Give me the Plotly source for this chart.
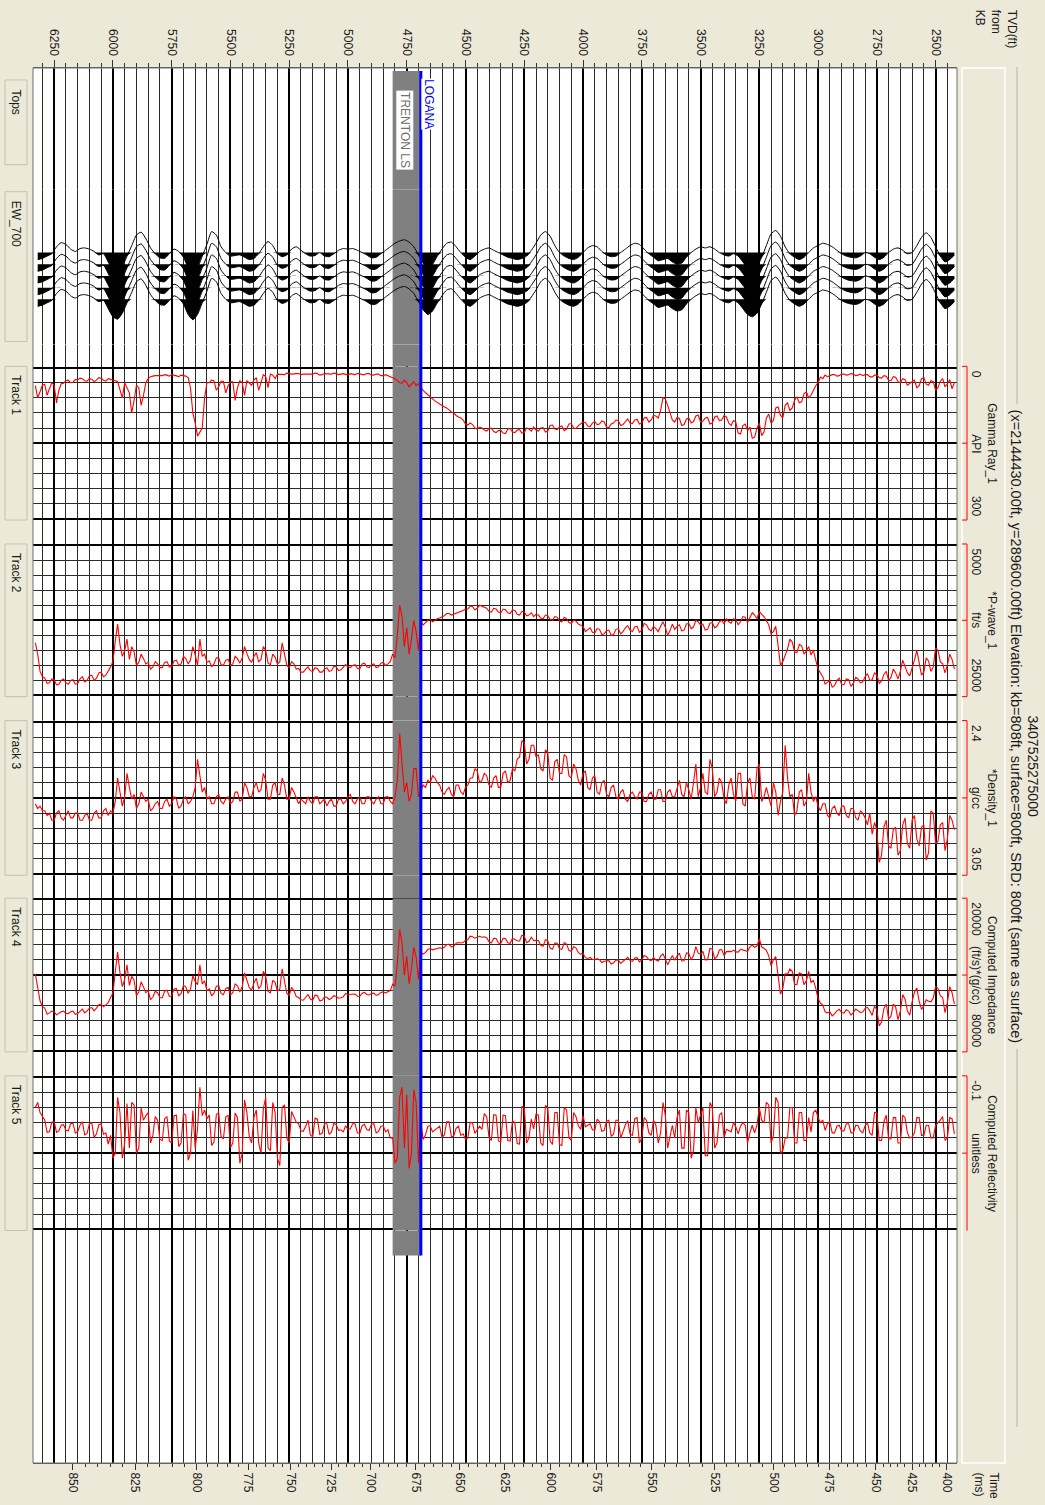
import numpy as np
import plotly.graph_objects as go

# ---------------- data ----------------
# log curves: one sample every 10 ft starting at 2420 ft
LOG_DEPTH_START_FT = 2420
LOG_DEPTH_STEP_FT = 10

GAMMA_RAY_API = [
    30, 42, 24, 33, 38, 22, 27, 40, 45, 28, 26, 35, 33, 20, 22, 36, 40, 25, 28, 32,
    35, 24, 22, 30, 28, 19, 18, 26, 25, 17, 16, 21, 20, 15, 15, 19, 18, 14, 14, 16,
    13, 15, 16, 13, 12, 14, 15, 13, 13, 16, 17, 14, 14, 16, 18, 15, 22, 19, 30, 36,
    45, 55, 60, 48, 52, 68, 70, 58, 65, 80, 85, 70, 75, 100, 95, 78, 80, 105, 110, 92,
    100, 128, 135, 110, 120, 138, 140, 118, 125, 112, 115, 132, 130, 108, 105, 115, 110, 98, 95, 104,
    105, 96, 98, 110, 112, 99, 100, 106, 108, 94, 96, 107, 110, 100, 102, 113, 115, 101, 99, 108,
    104, 88, 75, 62, 60, 85, 100, 96, 95, 104, 108, 99, 100, 110, 112, 103, 104, 111, 110, 102,
    108, 113, 115, 105, 104, 110, 112, 119, 118, 108, 106, 112, 113, 107, 110, 117, 116, 109, 108, 112,
    115, 121, 120, 111, 112, 122, 125, 116, 118, 123, 122, 114, 115, 126, 128, 119, 120, 126, 124, 118,
    126, 122, 120, 129, 130, 123, 124, 129, 128, 121, 122, 131, 130, 124, 125, 129, 127, 120, 121, 126,
    124, 120, 118, 122, 120, 113, 110, 114, 112, 104, 100, 98, 95, 90, 88, 84, 80, 78, 75, 72,
    70, 66, 62, 58, 55, 50, 45, 40, 32, 36, 28, 34, 38, 30, 25, 31, 30, 26, 22, 20,
    18, 15, 14, 16, 16, 13, 13, 15, 15, 12, 12, 14, 14, 12, 12, 14, 13, 12, 15, 13,
    12, 13, 14, 12, 11, 13, 13, 12, 12, 14, 15, 12, 11, 13, 13, 12, 12, 13, 14, 12,
    12, 13, 13, 12, 11, 14, 14, 13, 13, 22, 15, 13, 40, 18, 14, 30, 45, 20, 25, 35,
    30, 26, 55, 30, 26, 40, 65, 28, 28, 36, 50, 27, 27, 38, 45, 26, 25, 30, 30, 60,
    120, 128, 136, 110, 90, 40, 20, 17, 16, 15, 18, 16, 15, 14, 17, 15, 14, 16, 16, 15,
    16, 17, 18, 22, 30, 55, 75, 40, 35, 65, 90, 50, 40, 30, 60, 45, 28, 26, 25, 24,
    22, 27, 25, 21, 20, 25, 28, 23, 22, 27, 26, 22, 21, 24, 24, 29, 30, 25, 26, 31,
    32, 45, 70, 35, 30, 42, 55, 33, 35, 48, 60, 36,
]

P_WAVE_FTS = [
    21500, 20200, 19500, 21000, 22000, 20800, 20500, 19000, 18700, 21200,
    21800, 20400, 20000, 21900, 22300, 20600, 19000, 20300, 21500, 22400,
    22000, 21200, 20300, 21800, 22800, 22000, 21500, 22600, 23000, 21800,
    22200, 23100, 23400, 22300, 22000, 22900, 23000, 22100, 22500, 23200,
    23300, 22800, 22600, 23400, 23800, 22900, 22800, 23600, 23500, 22700,
    23000, 23700, 23900, 23000, 23200, 23500, 22500, 22000, 21500, 20300,
    19000, 19600, 18500, 19100, 19500, 18400, 18200, 19300, 19200, 17900,
    17500, 18800, 19800, 20500, 21000, 18000, 15800, 16500, 16800, 15600,
    15000, 14500, 14200, 13800, 14800, 14300, 14000, 14700, 15300, 14600,
    14500, 15200, 15600, 14900, 14800, 15400, 15200, 14800, 15500, 15000,
    15200, 15800, 16000, 15300, 15400, 16200, 16300, 15500, 15600, 15200,
    15000, 15900, 16100, 15400, 15500, 16300, 16400, 15600, 15800, 16200,
    15500, 16400, 17000, 15900, 15200, 15800, 16500, 16100, 15800, 16400,
    16200, 15600, 15400, 16300, 16600, 15800, 15900, 16500, 16300, 15700,
    16000, 16500, 16800, 16100, 16200, 16900, 17000, 16300, 16400, 16800,
    16900, 16200, 16100, 16700, 16600, 16000, 16200, 16500, 15800, 15600,
    15500, 15100, 15000, 15400, 15300, 14800, 14600, 15200, 15100, 14600,
    14500, 15000, 14900, 14400, 14300, 14800, 14700, 14300, 14200, 14500,
    14000, 14300, 14400, 13900, 13800, 14300, 14200, 13700, 13600, 14100,
    14000, 13600, 13500, 14000, 13900, 13500, 13400, 13900, 13800, 13400,
    13300, 13200, 13000, 13400, 13600, 13200, 13100, 13500, 13500, 13700,
    13800, 13900, 14000, 14200, 14300, 14100, 14100, 14400, 14600, 14700,
    14800, 15000, 15200, 14900, 15000, 15300, 15600, 15200, 19000, 16500,
    15000, 17500, 19500, 16000, 18500, 14500, 13000, 17000, 20000, 19500,
    20500, 20800, 21000, 20600, 20700, 21200, 21300, 20800, 20900, 21300,
    21200, 20700, 20800, 21500, 21400, 20900, 21000, 21300, 21200, 20900,
    21300, 21600, 21700, 21200, 21100, 21700, 21800, 21300, 21500, 21900,
    21900, 21400, 21300, 21800, 21700, 21200, 21500, 21900, 21900, 21400,
    21500, 20800, 20500, 21300, 21000, 19500, 18000, 20500, 20800, 19900,
    19500, 20900, 20700, 19000, 18500, 20200, 20500, 19300, 19800, 20600,
    20200, 19400, 18500, 20000, 20700, 20100, 19800, 20800, 21000, 20200,
    20300, 21000, 20900, 20000, 20000, 20800, 21200, 20400, 20600, 19500,
    19800, 17500, 21000, 19600, 18500, 20300, 20800, 20100, 19800, 20800,
    21000, 20300, 20400, 21200, 21200, 20500, 20600, 21300, 21300, 20800,
    20500, 21200, 21500, 20600, 20800, 20100, 19500, 20600, 21000, 19200,
    18500, 20200, 17500, 19000, 19800, 18200, 15500, 17800, 20500, 21200,
    21800, 22300, 22500, 21900, 22000, 22700, 23000, 22300, 22400, 23000,
    23200, 22500, 22800, 23400, 23500, 22900, 23000, 23500, 23300, 22800,
    23000, 23500, 23600, 22900, 22800, 23300, 23400, 22700, 22500, 21800,
    19500, 18000,
]

DENSITY_GCC = [
    2.86, 2.82, 2.80, 2.90, 2.95, 2.83, 2.84, 2.91, 2.92, 2.79, 2.78, 2.96, 2.99, 2.84, 2.85, 2.93, 2.90, 2.80, 2.82, 2.94,
    2.92, 2.81, 2.84, 2.95, 2.97, 2.85, 2.86, 2.94, 2.93, 2.82, 2.85, 2.97, 3.00, 2.86, 2.83, 2.88, 2.79, 2.84, 2.81, 2.79,
    2.78, 2.82, 2.81, 2.77, 2.77, 2.81, 2.80, 2.76, 2.76, 2.80, 2.79, 2.76, 2.77, 2.81, 2.80, 2.75, 2.75, 2.78, 2.76, 2.72,
    2.74, 2.70, 2.62, 2.74, 2.76, 2.69, 2.70, 2.78, 2.80, 2.71, 2.72, 2.64, 2.50, 2.70, 2.74, 2.80, 2.70, 2.66, 2.76, 2.72,
    2.68, 2.72, 2.74, 2.58, 2.60, 2.73, 2.72, 2.64, 2.66, 2.76, 2.75, 2.62, 2.62, 2.74, 2.71, 2.64, 2.67, 2.75, 2.73, 2.66,
    2.64, 2.70, 2.72, 2.60, 2.56, 2.71, 2.70, 2.62, 2.68, 2.72, 2.58, 2.66, 2.73, 2.69, 2.66, 2.72, 2.71, 2.65, 2.69, 2.72,
    2.72, 2.69, 2.70, 2.74, 2.74, 2.69, 2.69, 2.73, 2.73, 2.70, 2.71, 2.74, 2.74, 2.70, 2.70, 2.73, 2.72, 2.70, 2.71, 2.74,
    2.73, 2.69, 2.70, 2.73, 2.72, 2.67, 2.68, 2.72, 2.71, 2.65, 2.66, 2.71, 2.70, 2.63, 2.64, 2.69, 2.68, 2.61, 2.62, 2.67,
    2.65, 2.60, 2.58, 2.64, 2.63, 2.55, 2.54, 2.62, 2.62, 2.56, 2.57, 2.65, 2.64, 2.53, 2.52, 2.61, 2.60, 2.54, 2.55, 2.50,
    2.50, 2.56, 2.58, 2.49, 2.48, 2.55, 2.56, 2.61, 2.60, 2.65, 2.66, 2.61, 2.62, 2.68, 2.68, 2.63, 2.64, 2.68, 2.67, 2.63,
    2.62, 2.65, 2.66, 2.61, 2.60, 2.64, 2.64, 2.67, 2.68, 2.71, 2.70, 2.67, 2.67, 2.72, 2.71, 2.68, 2.69, 2.71, 2.70, 2.67,
    2.66, 2.64, 2.63, 2.66, 2.65, 2.68, 2.67, 2.70, 2.72, 2.60, 2.60, 2.71, 2.74, 2.66, 2.70, 2.58, 2.45, 2.65, 2.72, 2.75,
    2.74, 2.72, 2.72, 2.75, 2.75, 2.72, 2.73, 2.75, 2.74, 2.72, 2.72, 2.75, 2.75, 2.72, 2.73, 2.75, 2.74, 2.71, 2.72, 2.74,
    2.75, 2.73, 2.73, 2.76, 2.76, 2.73, 2.74, 2.76, 2.73, 2.74, 2.75, 2.72, 2.72, 2.75, 2.74, 2.72, 2.75, 2.74, 2.73, 2.75,
    2.72, 2.70, 2.68, 2.73, 2.73, 2.67, 2.64, 2.71, 2.71, 2.66, 2.67, 2.73, 2.73, 2.65, 2.62, 2.69, 2.70, 2.66, 2.68, 2.72,
    2.72, 2.68, 2.66, 2.73, 2.74, 2.70, 2.70, 2.74, 2.75, 2.72, 2.73, 2.75, 2.74, 2.71, 2.72, 2.75, 2.75, 2.72, 2.73, 2.68,
    2.70, 2.62, 2.56, 2.68, 2.72, 2.74, 2.75, 2.72, 2.73, 2.76, 2.77, 2.73, 2.72, 2.75, 2.76, 2.73, 2.74, 2.77, 2.77, 2.74,
    2.75, 2.77, 2.78, 2.73, 2.74, 2.72, 2.70, 2.75, 2.77, 2.71, 2.73, 2.68, 2.62, 2.72, 2.76, 2.70, 2.64, 2.74, 2.79, 2.78,
    2.80, 2.77, 2.78, 2.81, 2.81, 2.78, 2.79, 2.82, 2.82, 2.79, 2.80, 2.82, 2.82, 2.79, 2.79, 2.81, 2.81, 2.78, 2.80, 2.82,
    2.81, 2.78, 2.79, 2.82, 2.82, 2.79, 2.80, 2.78, 2.78, 2.76, 2.77, 2.75,
]

IMPEDANCE = [
    61500, 57000, 54600, 60900, 64900, 58900, 58200, 55300, 54600, 59100,
    60600, 60400, 59800, 62200, 63600, 60400, 55100, 56800, 60600, 65900,
    64200, 59600, 57700, 64300, 67700, 62700, 61500, 66400, 67400, 61500,
    63300, 68600, 70200, 63800, 62300, 66000, 64200, 62800, 63200, 64700,
    64800, 64300, 63500, 64800, 65900, 64300, 63800, 65100, 64900, 63600,
    64200, 65400, 66200, 64600, 65000, 64600, 61900, 61200, 59300, 55200,
    52100, 52900, 48500, 52300, 53800, 49500, 49100, 53700, 53800, 48500,
    47600, 49600, 49500, 55400, 57500, 50400, 42700, 43900, 46400, 42400,
    40200, 39400, 38900, 35600, 38500, 39000, 38100, 38800, 40700, 40300,
    39900, 39800, 40900, 40800, 40100, 40700, 40600, 40700, 42300, 39900,
    40100, 42700, 43500, 39800, 39400, 43900, 44000, 40600, 41800, 41300,
    38700, 42300, 44000, 41400, 41200, 44300, 44400, 41300, 42500, 44100,
    42200, 44100, 45900, 43600, 41600, 42500, 44400, 44000, 43100, 44300,
    43900, 42700, 42200, 44000, 44800, 43100, 43200, 44600, 44200, 43000,
    43700, 44400, 45400, 44000, 44100, 45100, 45600, 44300, 44400, 44500,
    45000, 43900, 43500, 43900, 43800, 43000, 43400, 43100, 41400, 41700,
    41100, 39300, 38700, 40700, 40200, 37700, 37100, 39800, 39600, 37400,
    37300, 39800, 39300, 36400, 36000, 38600, 38200, 36300, 36200, 36300,
    35000, 36600, 37200, 34600, 34200, 36500, 36400, 35800, 35400, 37400,
    37200, 35500, 35400, 37500, 37300, 35500, 35400, 37300, 36800, 35200,
    34800, 35000, 34600, 35000, 35400, 34800, 34600, 36000, 36200, 37100,
    37300, 37100, 37400, 38600, 38800, 37800, 37900, 39000, 39400, 39200,
    39400, 39600, 40000, 39600, 39800, 41000, 41700, 41000, 51700, 42900,
    39000, 47400, 53400, 42600, 50000, 37400, 31900, 45100, 54400, 53600,
    56200, 56600, 57100, 56700, 56900, 57700, 58100, 57200, 57300, 57900,
    57700, 56900, 57200, 58500, 58400, 57500, 57500, 57700, 57700, 57300,
    58600, 59000, 59200, 58500, 58200, 59200, 59700, 58800, 58700, 60000,
    60200, 58200, 57900, 60000, 59500, 57700, 59100, 60000, 59800, 58900,
    58500, 56200, 54900, 58100, 57300, 52100, 47500, 55600, 56400, 52900,
    52100, 57100, 56500, 50400, 48500, 54300, 55400, 51300, 53100, 56000,
    54900, 52000, 49200, 54600, 56700, 54300, 53500, 57000, 57800, 54900,
    55400, 57800, 57300, 54200, 54400, 57200, 58300, 55500, 56200, 52300,
    53500, 45900, 53800, 52500, 50300, 55600, 57200, 54700, 54100, 57400,
    58200, 55400, 55500, 58300, 58500, 56000, 56400, 59000, 59000, 57000,
    56400, 58700, 59800, 56200, 57000, 54700, 52700, 56700, 58200, 52000,
    50500, 54100, 45900, 51700, 54600, 49100, 40900, 48800, 57200, 58900,
    61000, 61800, 62600, 61500, 61800, 63100, 64200, 62900, 63200, 64200,
    65000, 63500, 64300, 65300, 65600, 64300, 64600, 65300, 65200, 64300,
    64600, 65300, 65800, 64600, 64300, 65000, 65500, 63100, 62600, 60200,
    54000, 49500,
]

REFLECTIVITY = [
    0.012, -0.018, -0.02, 0.02, 0.025, -0.022, -0.015, -0.01, -0.005, 0.02,
    0.02, -0.005, -0.005, 0.015, 0.015, -0.02, -0.02, 0.01, 0.018, 0.02,
    0.01, -0.02, -0.025, 0.03, 0.03, -0.02, -0.02, 0.022, 0.022, -0.025,
    -0.012, 0.025, 0.025, -0.03, -0.03, 0.015, 0.01, -0.01, -0.004, 0.01,
    0.006, -0.004, -0.005, 0.01, 0.01, -0.008, -0.008, 0.006, 0.006, -0.005,
    -0.003, 0.01, 0.01, -0.012, -0.008, 0.005, -0.015, -0.01, -0.02, -0.035,
    -0.03, 0.008, -0.02, 0.025, 0.025, -0.03, -0.03, 0.03, 0.03, -0.04,
    -0.04, 0.02, 0.02, 0.045, 0.05, -0.05, -0.06, 0.015, 0.03, -0.045,
    -0.05, -0.01, -0.015, -0.04, -0.005, 0.01, -0.005, 0.01, 0.03, -0.005,
    -0.01, -0.003, 0.012, -0.002, -0.01, 0.008, 0.006, 0.003, 0.02, -0.03,
    -0.025, 0.03, 0.04, -0.04, -0.05, 0.055, 0.055, -0.04, -0.025, -0.01,
    -0.04, 0.045, 0.06, -0.03, -0.035, 0.04, 0.04, -0.035, -0.02, 0.02,
    -0.005, 0.02, 0.04, -0.025, -0.05, 0.01, 0.03, -0.005, -0.015, 0.015,
    0.01, -0.015, -0.02, 0.02, 0.03, -0.02, -0.018, 0.015, 0.012, -0.014,
    -0.006, 0.008, 0.02, -0.015, -0.015, 0.012, 0.017, -0.015, -0.013, 0.005,
    0.007, -0.012, -0.017, 0.005, 0.004, -0.008, -0.005, -0.002, -0.024, 0.003,
    -0.004, -0.022, -0.03, 0.025, 0.019, -0.035, -0.04, 0.035, 0.033, -0.03,
    -0.03, 0.033, 0.026, -0.04, -0.044, 0.035, 0.03, -0.025, -0.027, 0.002,
    -0.017, 0.02, 0.03, -0.04, -0.042, 0.032, 0.031, -0.01, -0.014, 0.026,
    0.025, -0.024, -0.025, 0.028, 0.026, -0.025, -0.026, 0.025, 0.019, -0.022,
    -0.028, 0.003, -0.003, 0.005, 0.011, -0.009, -0.011, 0.02, 0.023, 0.012,
    0.015, -0.003, 0.001, 0.016, 0.018, -0.012, -0.012, 0.014, 0.019, -0.003,
    0.0, 0.004, 0.008, -0.004, -0.003, 0.014, 0.023, -0.01, 0.07, -0.05,
    -0.075, 0.05, 0.08, -0.065, 0.04, -0.08, -0.06, 0.06, 0.07, 0.02,
    0.02, 0.004, 0.008, -0.004, -0.003, 0.007, 0.01, -0.008, -0.007, 0.005,
    0.004, -0.007, -0.004, 0.011, 0.01, -0.008, -0.008, 0.002, 0.003, -0.004,
    0.008, 0.004, 0.005, -0.006, -0.009, 0.008, 0.013, -0.008, -0.008, 0.011,
    0.013, -0.017, -0.019, 0.018, 0.014, -0.015, -0.003, 0.007, 0.006, -0.008,
    -0.011, -0.02, -0.032, 0.03, 0.021, -0.045, -0.04, 0.075, 0.06, -0.03,
    -0.05, 0.045, 0.04, -0.06, -0.038, 0.05, 0.03, -0.035, -0.021, 0.03,
    0.017, -0.03, -0.055, 0.05, 0.07, -0.02, -0.029, 0.03, 0.039, -0.025,
    -0.021, 0.022, 0.017, -0.03, -0.026, 0.028, 0.035, -0.025, -0.018, -0.035,
    -0.024, -0.08, 0.003, 0.04, -0.034, 0.05, 0.064, -0.025, -0.028, 0.03,
    0.037, -0.025, -0.024, 0.03, 0.026, -0.022, -0.018, 0.025, 0.023, -0.015,
    -0.022, 0.015, 0.03, -0.03, -0.024, -0.015, -0.039, 0.04, 0.05, -0.045,
    -0.05, 0.04, -0.048, 0.03, 0.06, -0.03, -0.06, 0.05, 0.06, 0.015,
    0.032, 0.01, 0.013, -0.008, -0.006, 0.012, 0.019, -0.01, -0.008, 0.011,
    0.014, -0.012, -0.005, 0.008, 0.01, -0.009, -0.008, 0.006, 0.005, -0.006,
    -0.005, 0.006, 0.009, -0.012, -0.011, 0.008, 0.009, -0.015, -0.023, -0.03,
    -0.05, -0.04,
]

# synthetic seismogram EW_700: one sample every 20 ft from 2420 ft
# (amplitude in trace-spacing units, + = black lobe)
SYN_DEPTH_START_FT = 2420
SYN_DEPTH_STEP_FT = 20
SYNTHETIC_EW700 = [
    0.2, 0.6, 0.8, 0.3, -0.5, -1.3, -1.7, -1.3, -0.6, 0.0,
    0.1, -0.2, -0.4, -0.3, 0.0, 0.4, 0.6, 0.4, 0.1, 0.0,
    0.3, 0.45, 0.4, 0.3, 0.1, -0.2, -0.5, -0.7, -0.8, -0.6,
    -0.4, 0.0, 0.4, 0.6, 0.4, 0.1, -0.5, -1.4, -1.9, -1.6,
    -0.6, 0.4, 1.2, 1.5, 1.3, 0.8, 0.3, 0.1, 0.3, 0.2,
    0.0, -0.3, -0.5, -0.4, -0.5, -0.3, 0.0, 0.4, 0.9, 1.0,
    0.8, 0.5, 0.6, 0.7, 0.4, 0.1, -0.3, -0.7, -0.8, -0.6,
    -0.3, 0.0, 0.3, 0.35, 0.2, -0.1, -0.5, -0.6, -0.4, 0.0,
    0.4, 0.6, 0.5, 0.3, 0.0, -0.6, -1.4, -1.8, -1.5, -0.8,
    -0.2, 0.3, 0.5, 0.6, 0.5, 0.4, 0.2, 0.0, -0.2, -0.4,
    -0.3, -0.1, 0.3, 0.6, 0.4, 0.0, -0.5, -0.9, -0.8, -0.3,
    0.3, 1.0, 1.3, 0.9, 0.2, -0.5, -0.9, -1.1, -1.0, -0.8,
    -0.5, -0.2, 0.1, 0.4, 0.45, 0.2, 0.0, -0.2, -0.35, -0.3,
    -0.35, -0.2, 0.1, 0.35, 0.3, 0.0, 0.25, 0.3, 0.1, -0.2,
    -0.5, -0.3, 0.2, 0.35, 0.1, -0.6, -0.95, -0.5, 0.1, 0.5,
    0.6, 0.4, 0.2, 0.25, 0.3, 0.0, -0.5, -1.5, -1.8, -0.7,
    0.3, 1.3, 1.75, 1.3, 0.4, -0.1, -0.3, 0.1, 0.5, 0.45,
    0.1, -0.4, -1.2, -1.75, -1.5, -0.6, 0.3, 1.2, 1.7, 1.5,
    0.8, 0.1, 0.2, -0.1, -0.3, -0.4, -0.35, -0.1, -0.3, -0.7,
    -0.85, -0.5, 0.1, 0.3, 0.5, 0.6,
]

# time-depth ticks of the bottom axis
TIME_MS = [400, 425, 450, 475, 500, 525, 550, 575, 600, 625,
           650, 675, 700, 725, 750, 775, 800, 825, 850]
TIME_DEPTH_FT = [2453, 2600, 2754, 2953, 3188, 3439, 3708, 3942, 4138, 4332,
                 4524, 4712, 4904, 5072, 5244, 5424, 5643, 5906, 6171]

TOP_NAMES = ["LOGANA", "TRENTON LS"]
TOP_DEPTHS_FT = [4690, 4690]
TRENTON_BASE_FT = 4810

TRACK_TITLES = ["Gamma Ray_1", "*P-wave_1", "*Density_1",
                "Computed Impedance", "Computed Reflectivity"]
TRACK_UNITS = ["API", "ft/s", "g/cc", "(ft/s)*(g/cc)", "unitless"]
TRACK_MIN = [0, 5000, 2.4, 20000, -0.1]
TRACK_MAX = [300, 25000, 3.05, 80000, 0.2]
TRACK_LEFT_LABEL = ["0", "5000", "2.4", "20000", "-0.1"]
TRACK_RIGHT_LABEL = ["300", "25000", "3.05", "80000", ""]
TRACK_DATA = [GAMMA_RAY_API, P_WAVE_FTS, DENSITY_GCC, IMPEDANCE, REFLECTIVITY]
TAB_NAMES = ["Tops", "EW_700", "Track 1", "Track 2", "Track 3", "Track 4", "Track 5"]

TITLE_1 = "3407525275000"
TITLE_2 = ("(x=2144430.00ft, y=289600.00ft) Elevation: kb=808ft, "
           "surface=800ft, SRD: 800ft (same as surface)")

# ---------------- layout geometry (pixels) ----------------
W, H = 1045, 1505
PL, PR, PT, PB = 33, 957, 68, 1466
PW, PH = PR - PL, PB - PT
DEPTH_RANGE = [6340, 2409]

TRACK_PX = [(367, 521), (545, 698), (722, 877), (900, 1054), (1078, 1233)]
TAB_PX = [(80, 165), (192, 342)] + TRACK_PX
EW_PX = (190, 345)
EW_BASE_PX = 253.0
EW_SPACING_PX = 11.7
BAND_TOP_PX, BAND_BOT_PX = 71, 1258

BG = "#ECE9D8"
FONT = "Liberation Sans, Arial, sans-serif"
TXT = "#1a1a1a"
RED = "#FF0000"
GRAY_BAND = "#808080"


def fx(xp):
    return (xp - PL) / PW


def fy(yp):
    return (PB - yp) / PH


log_depth = LOG_DEPTH_START_FT + LOG_DEPTH_STEP_FT * np.arange(len(GAMMA_RAY_API))
for arr in TRACK_DATA:
    assert len(arr) == len(log_depth), len(arr)
syn_depth = SYN_DEPTH_START_FT + SYN_DEPTH_STEP_FT * np.arange(len(SYNTHETIC_EW700))

fig = go.Figure()

# base subplot (full height, carries the depth grid)
fig.add_trace(go.Scatter(x=TOP_DEPTHS_FT, y=[0.5, 0.5], xaxis="x", yaxis="y",
                         mode="markers", marker=dict(opacity=0), hoverinfo="skip"))
# time axis carrier
fig.add_trace(go.Scatter(x=TIME_DEPTH_FT, y=[0.5] * len(TIME_DEPTH_FT), xaxis="x2", yaxis="y",
                         mode="markers", marker=dict(opacity=0), hoverinfo="skip"))

layout = dict(
    width=W, height=H, autosize=False,
    margin=dict(l=PL, r=W - PR, t=PT, b=H - PB, pad=0),
    paper_bgcolor=BG, plot_bgcolor="#FFFFFF", showlegend=False,
    font=dict(family=FONT, size=12, color=TXT), hovermode=False,
)

layout["xaxis"] = dict(
    domain=[0, 1], range=DEPTH_RANGE, side="top", anchor="y",
    tickmode="linear", tick0=0, dtick=250, ticks="outside", ticklen=7, tickwidth=1,
    tickcolor="#333333", tickangle=90, tickfont=dict(size=12, color=TXT),
    showline=True, linecolor="#555555", linewidth=1,
    showgrid=True, gridcolor="#000000", gridwidth=2.4, zeroline=False, fixedrange=True,
    minor=dict(tick0=0, dtick=50, ticks="outside", ticklen=4, tickcolor="#333333",
               showgrid=True, gridcolor="#2a2a2a", gridwidth=1),
)

minor_times = np.arange(TIME_MS[0], TIME_MS[-1] + 1, 5)
minor_depths = np.interp(minor_times, TIME_MS, TIME_DEPTH_FT)
layout["xaxis2"] = dict(
    overlaying="x", side="bottom", anchor="y", range=DEPTH_RANGE,
    tickmode="array", tickvals=TIME_DEPTH_FT, ticktext=[str(t) for t in TIME_MS],
    ticks="outside", ticklen=6, tickcolor="#333333", tickangle=90,
    tickfont=dict(size=12, color=TXT),
    showgrid=False, zeroline=False, showline=True, linecolor="#555555", fixedrange=True,
    minor=dict(tickmode="array", tickvals=list(minor_depths), ticks="outside",
               ticklen=3, tickcolor="#333333", showgrid=False),
)
layout["yaxis"] = dict(domain=[0, 1], range=[0, 1], visible=False, fixedrange=True)

shapes = []
annotations = []

# gray formation band in the base subplot
shapes.append(dict(type="rect", xref="x", yref="y", x0=TOP_DEPTHS_FT[1], x1=TRENTON_BASE_FT,
                   y0=fy(BAND_BOT_PX), y1=fy(BAND_TOP_PX), fillcolor=GRAY_BAND,
                   line=dict(width=0), layer="between"))

# log tracks
for i in range(5):
    n = i + 2
    lo, hi = TRACK_MIN[i], TRACK_MAX[i]
    span = hi - lo
    eps = span * 0.008
    top_px, bot_px = TRACK_PX[i]
    rng = [hi + eps, lo - eps]
    layout[f"yaxis{n}"] = dict(
        domain=[fy(bot_px), fy(top_px)], anchor="x", range=rng,
        tickmode="array", tickvals=[lo, lo + span / 2, hi],
        showticklabels=False, ticks="", showline=False, zeroline=False,
        showgrid=True, gridcolor="#000000", gridwidth=2.4, fixedrange=True,
        minor=dict(tickmode="array", tickvals=[lo + span * j / 10 for j in range(11)],
                   ticks="", showgrid=True, gridcolor="#2a2a2a", gridwidth=1),
    )
    shapes.append(dict(type="rect", xref="x", yref=f"y{n}", x0=TOP_DEPTHS_FT[1], x1=TRENTON_BASE_FT,
                       y0=rng[0], y1=rng[1], fillcolor=GRAY_BAND, line=dict(width=0),
                       layer="between"))
    fig.add_trace(go.Scatter(x=log_depth, y=TRACK_DATA[i], xaxis="x", yaxis=f"y{n}",
                             mode="lines", line=dict(color=RED, width=1.1), hoverinfo="skip"))

# EW_700 synthetic wiggle track
ew_top_val = 1 - (EW_BASE_PX - EW_PX[0]) / EW_SPACING_PX
ew_bot_val = ew_top_val + (EW_PX[1] - EW_PX[0]) / EW_SPACING_PX
layout["yaxis7"] = dict(domain=[fy(EW_PX[1]), fy(EW_PX[0])], anchor="x",
                        range=[ew_bot_val, ew_top_val], visible=False, fixedrange=True)
shapes.append(dict(type="rect", xref="x", yref="y7", x0=TOP_DEPTHS_FT[1], x1=TRENTON_BASE_FT,
                   y0=ew_bot_val, y1=ew_top_val, fillcolor=GRAY_BAND, line=dict(width=0),
                   layer="between"))
amp = np.array(SYNTHETIC_EW700)
for k in range(1, 6):
    fig.add_trace(go.Scatter(x=syn_depth, y=np.full(len(syn_depth), k), xaxis="x", yaxis="y7",
                             mode="lines", line=dict(width=0, color="black"), hoverinfo="skip"))
    fig.add_trace(go.Scatter(x=syn_depth, y=k + np.maximum(amp, 0), xaxis="x", yaxis="y7",
                             mode="lines", line=dict(width=0, color="black", shape="spline",
                                                     smoothing=0.6),
                             fill="tonexty", fillcolor="black", hoverinfo="skip"))
    fig.add_trace(go.Scatter(x=syn_depth, y=k + amp, xaxis="x", yaxis="y7", mode="lines",
                             line=dict(width=1, color="black", shape="spline", smoothing=0.6),
                             hoverinfo="skip"))

# LOGANA top line
shapes.append(dict(type="line", xref="x", yref="paper", x0=TOP_DEPTHS_FT[0], x1=TOP_DEPTHS_FT[0],
                   y0=fy(BAND_BOT_PX), y1=fy(BAND_TOP_PX), line=dict(color="#0000FF", width=3),
                   layer="above"))

# plot frame
shapes.append(dict(type="rect", xref="paper", yref="paper", x0=0, x1=1, y0=0, y1=1,
                   line=dict(color="#707070", width=1), layer="above"))


def rot_text(text, xp, yp, size=12, color=TXT, xanchor="center", yanchor="middle", **kw):
    return dict(text=text, xref="paper", yref="paper", x=fx(xp), y=fy(yp), showarrow=False,
                textangle=90, xanchor=xanchor, yanchor=yanchor,
                font=dict(size=size, color=color, family=FONT), **kw)


# tops labels
annotations.append(dict(text=TOP_NAMES[0], xref="x", yref="paper", x=TOP_DEPTHS_FT[0], xshift=8,
                        y=fy(78), yanchor="top", xanchor="center", textangle=90, showarrow=False,
                        bgcolor="#FFFFFF", borderpad=0,
                        font=dict(size=12, color="#0000FF", family=FONT)))
annotations.append(dict(text=TOP_NAMES[1], xref="x", yref="paper", x=TOP_DEPTHS_FT[1], xshift=-16,
                        y=fy(90), yanchor="top", xanchor="center", textangle=90, showarrow=False,
                        bgcolor="#FFFFFF", borderpad=1,
                        font=dict(size=12, color="#707070", family=FONT)))

# left tabs
for name, (t, b) in zip(TAB_NAMES, TAB_PX):
    shapes.append(dict(type="rect", xref="paper", yref="paper", x0=fx(5), x1=fx(27),
                       y0=fy(b), y1=fy(t), fillcolor=BG, line=dict(color="#C4C1B0", width=1)))
    annotations.append(rot_text(name, 16, t + 7, size=12, yanchor="top"))

# right header
shapes.append(dict(type="rect", xref="paper", yref="paper", x0=fx(962), x1=fx(1005),
                   y0=fy(1466), y1=fy(68), line=dict(color="#FFFFFF", width=1.5)))
for i in range(5):
    t, b = TRACK_PX[i]
    mid = (t + b) / 2
    shapes.append(dict(type="line", xref="paper", yref="paper", x0=fx(967), x1=fx(967),
                       y0=fy(b), y1=fy(t), line=dict(color=RED, width=1)))
    tick_rows = [t, mid] + ([b] if TRACK_RIGHT_LABEL[i] else [])
    for yy in tick_rows:
        shapes.append(dict(type="line", xref="paper", yref="paper", x0=fx(962), x1=fx(967),
                           y0=fy(yy), y1=fy(yy), line=dict(color=RED, width=1)))
    annotations.append(rot_text(TRACK_TITLES[i], 992, mid))
    annotations.append(rot_text(TRACK_UNITS[i], 976, mid))
    annotations.append(rot_text(TRACK_LEFT_LABEL[i], 976, t + 2, yanchor="top"))
    if TRACK_RIGHT_LABEL[i]:
        annotations.append(rot_text(TRACK_RIGHT_LABEL[i], 976, b - 2, yanchor="bottom"))

# titles and group line
shapes.append(dict(type="line", xref="paper", yref="paper", x0=fx(1017), x1=fx(1017),
                   y0=fy(405), y1=fy(67), line=dict(color="#B5B2A6", width=1)))
shapes.append(dict(type="line", xref="paper", yref="paper", x0=fx(1017), x1=fx(1017),
                   y0=fy(1430), y1=fy(1051), line=dict(color="#B5B2A6", width=1)))
annotations.append(rot_text(TITLE_1, 1033, 767, size=14))
annotations.append(rot_text(TITLE_2, 1016, 728, size=14.5))
annotations.append(rot_text("TVD(ft)<br>from<br>KB", 996, 8, yanchor="top", align="left"))
annotations.append(rot_text("Time<br>(ms)", 986, 1474, yanchor="top", align="left"))

layout["shapes"] = shapes
layout["annotations"] = annotations
fig.update_layout(**layout)

PAGE_JS = ("document.body.style.margin='0';document.body.style.padding='0';"
           "document.body.style.background='" + BG + "';"
           "document.documentElement.style.overflow='hidden';")
fig.write_html("out.html", post_script=PAGE_JS, config={"displayModeBar": False})
